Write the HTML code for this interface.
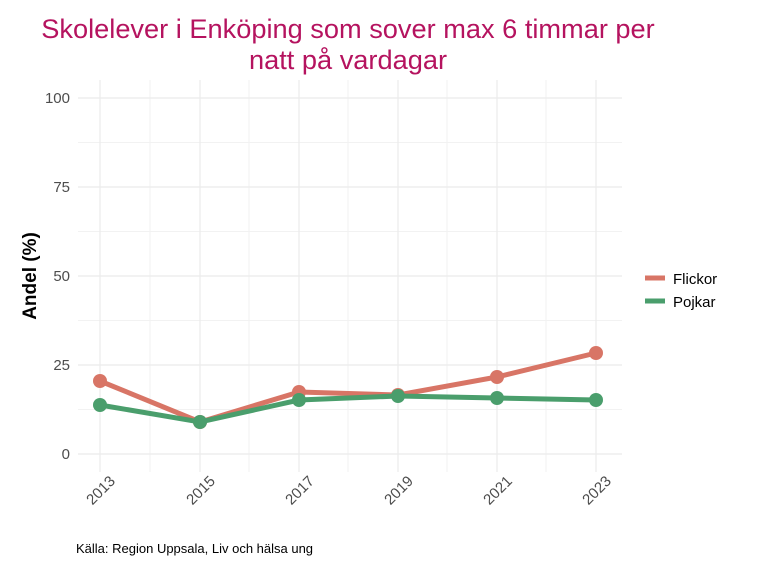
<!DOCTYPE html>
<html><head><meta charset="utf-8"><style>
body{margin:0;background:#fff;}
svg{display:block;font-family:"Liberation Sans",sans-serif;}
</style></head><body>
<svg width="768" height="576" xmlns="http://www.w3.org/2000/svg">
<rect width="768" height="576" fill="#fff"/>
<text x="348" y="38" text-anchor="middle" font-size="27.2" fill="#b5135f">Skolelever i Enköping som sover max 6 timmar per</text>
<text x="348" y="69" text-anchor="middle" font-size="27.2" fill="#b5135f">natt på vardagar</text>
<g stroke="#f2f2f2" stroke-width="1">
<line x1="78" x2="622" y1="142.5" y2="142.5"/><line x1="78" x2="622" y1="231.5" y2="231.5"/>
<line x1="78" x2="622" y1="320.5" y2="320.5"/><line x1="78" x2="622" y1="409.5" y2="409.5"/>
<line x1="150" x2="150" y1="80" y2="472"/><line x1="249" x2="249" y1="80" y2="472"/>
<line x1="348" x2="348" y1="80" y2="472"/><line x1="447" x2="447" y1="80" y2="472"/>
<line x1="546" x2="546" y1="80" y2="472"/>
</g>
<g stroke="#ebebeb" stroke-width="1.2">
<line x1="78" x2="622" y1="98" y2="98"/><line x1="78" x2="622" y1="187" y2="187"/>
<line x1="78" x2="622" y1="276" y2="276"/><line x1="78" x2="622" y1="365" y2="365"/>
<line x1="78" x2="622" y1="454" y2="454"/>
<line x1="100" x2="100" y1="80" y2="472"/><line x1="200" x2="200" y1="80" y2="472"/>
<line x1="299" x2="299" y1="80" y2="472"/><line x1="398" x2="398" y1="80" y2="472"/>
<line x1="497" x2="497" y1="80" y2="472"/><line x1="596" x2="596" y1="80" y2="472"/>
</g>
<g font-size="15" fill="#4d4d4d" text-anchor="end">
<text x="70" y="103">100</text><text x="70" y="192">75</text><text x="70" y="281">50</text>
<text x="70" y="370">25</text><text x="70" y="459">0</text>
</g>
<g font-size="15" fill="#4d4d4d" text-anchor="end">
<text transform="translate(116,482) rotate(-45)">2013</text>
<text transform="translate(216,482) rotate(-45)">2015</text>
<text transform="translate(315,482) rotate(-45)">2017</text>
<text transform="translate(414,482) rotate(-45)">2019</text>
<text transform="translate(513,482) rotate(-45)">2021</text>
<text transform="translate(612,482) rotate(-45)">2023</text>
</g>
<text transform="translate(36,276) rotate(-90)" text-anchor="middle" font-size="19" font-weight="bold">Andel (%)</text>
<polyline points="100,381 200,422 299,392 398,395 497,377 596,353" fill="none" stroke="#d87566" stroke-width="5"/>
<g fill="#d87566"><circle cx="100" cy="381" r="7"/><circle cx="200" cy="422" r="7"/><circle cx="299" cy="392" r="7"/><circle cx="398" cy="395" r="7"/><circle cx="497" cy="377" r="7"/><circle cx="596" cy="353" r="7"/></g>
<polyline points="100,405 200,422 299,400 398,396 497,398 596,400" fill="none" stroke="#4a9e6c" stroke-width="5"/>
<g fill="#4a9e6c"><circle cx="100" cy="405" r="7"/><circle cx="200" cy="422" r="7"/><circle cx="299" cy="400" r="7"/><circle cx="398" cy="396" r="7"/><circle cx="497" cy="398" r="7"/><circle cx="596" cy="400" r="7"/></g>
<line x1="645" x2="665" y1="278" y2="278" stroke="#d87566" stroke-width="5"/>
<line x1="645" x2="665" y1="301" y2="301" stroke="#4a9e6c" stroke-width="5"/>
<text x="673" y="284" font-size="15">Flickor</text>
<text x="673" y="307" font-size="15">Pojkar</text>
<text x="76" y="553" font-size="13">Källa: Region Uppsala, Liv och hälsa ung</text>
</svg>
</body></html>
